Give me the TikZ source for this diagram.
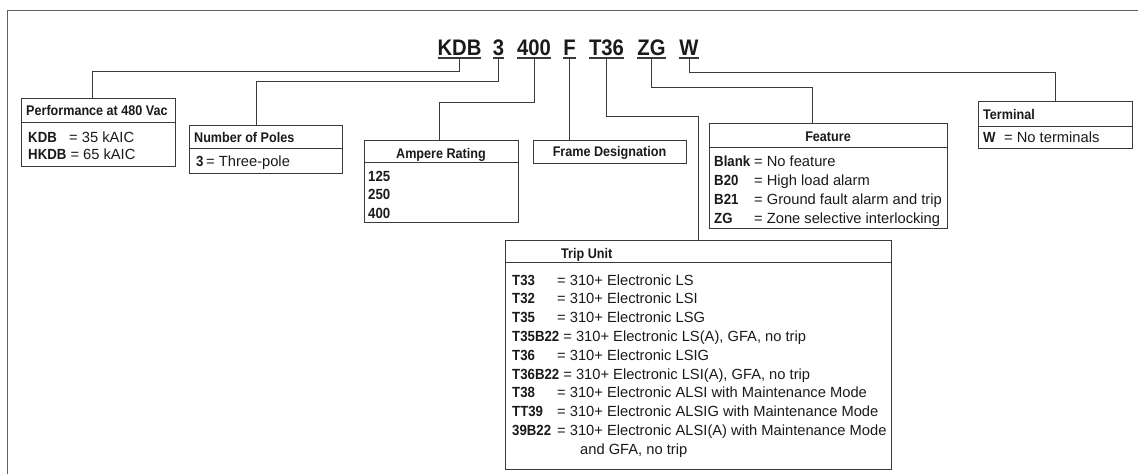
\documentclass[tikz,border=0pt]{standalone}
\usepackage{fontspec}
\setmainfont{Liberation Sans}[BoldFeatures={FakeStretch=0.9}]
\definecolor{ln}{HTML}{3A3A3A}
\definecolor{tx}{HTML}{1A1A1A}
\newcommand\tc[2]{\makebox[#1][l]{\bfseries #2}}
\begin{document}
\begin{tikzpicture}[x=1pt,y=-1pt,
  every node/.style={text=tx},
  code/.style={font=\fontsize{22.5}{24}\selectfont\bfseries, inner xsep=0pt, inner ysep=3pt, text depth=0pt, anchor=base, outer sep=0pt},
  uline/.style={draw=ln, line width=1.1pt},
  box/.style={draw=ln, line width=0.9pt, anchor=north west, inner sep=0pt, outer sep=0pt},
  sep/.style={draw=ln, line width=0.9pt},
  conn/.style={draw=ln, line width=0.9pt},
  hdr/.style={font=\fontsize{14}{16}\selectfont\bfseries, inner sep=0pt, anchor=base west},
  hdrc/.style={font=\fontsize{14}{16}\selectfont\bfseries, inner sep=0pt, anchor=base},
  row/.style={font=\fontsize{14.7}{16}\selectfont, inner sep=0pt, anchor=base west},
  frame/.style={draw=ln!80, line width=1pt}
]
\useasboundingbox (0,0) rectangle (1138,474);
\draw[frame] (7,474) -- (7,10) -- (1138,10);

% code
\node[code] (kdb) at (459.5,55) {KDB};
\node[code] (three) at (498.5,55) {3};
\node[code] (four) at (534,55) {400};
\node[code] (f) at (569.5,55) {F};
\node[code] (t36) at (606.5,55) {T36};
\node[code] (zg) at (651.5,55) {ZG};
\node[code] (w) at (689,55) {W};
\foreach \n in {kdb,three,four,f,t36,zg,w}
  \draw[uline] (\n.south west) -- (\n.south east);

% boxes
\node[box, minimum width=154, minimum height=68] (perf) at (21,98) {};
\draw[sep] (perf.west |- 0,122) -- (perf.east |- 0,122);
\node[hdr] (perfh) at (26,115) {Performance at 480 Vac};
\node[row] (perf1) at (28,142) {\tc{41pt}{KDB}= 35 kAIC};
\node[row] (perf2) at (28,159) {{\bfseries HKDB} = 65 kAIC};

\node[box, minimum width=153, minimum height=48] (poles) at (189,125) {};
\draw[sep] (poles.west |- 0,148) -- (poles.east |- 0,148);
\node[hdr] (polesh) at (194,142) {Number of Poles};
\node[row] (poles1) at (196,166) {\tc{10pt}{3}= Three-pole};

\node[box, minimum width=154, minimum height=82] (amp) at (364,140) {};
\draw[sep] (amp.west |- 0,162) -- (amp.east |- 0,162);
\node[hdrc] (amph) at (441,158) {Ampere Rating};
\node[row] (amp1) at (368,181) {\bfseries 125};
\node[row] (amp2) at (368,199) {\bfseries 250};
\node[row] (amp3) at (368,218) {\bfseries 400};

\node[box, minimum width=153, minimum height=23] (frm) at (533,140) {};
\node[hdrc] (frmh) at (609.5,156) {Frame Designation};

\node[box, minimum width=238, minimum height=105] (feat) at (709,123) {};
\draw[sep] (feat.west |- 0,147) -- (feat.east |- 0,147);
\node[hdrc] (feath) at (828,141) {Feature};
\node[row] (feat1) at (714,166) {\tc{40pt}{Blank}= No feature};
\node[row] (feat2) at (714,185) {\tc{40pt}{B20}= High load alarm};
\node[row] (feat3) at (714,204) {\tc{40pt}{B21}= Ground fault alarm and trip};
\node[row] (feat4) at (714,223) {\tc{40pt}{ZG}= Zone selective interlocking};

\node[box, minimum width=154, minimum height=47] (term) at (978,101) {};
\draw[sep] (term.west |- 0,126) -- (term.east |- 0,126);
\node[hdr] (termh) at (983,119) {Terminal};
\node[row] (term1) at (983,142) {\tc{21pt}{W}= No terminals};

\node[box, minimum width=386, minimum height=229] (trip) at (505,240) {};
\draw[sep] (trip.west |- 0,262) -- (trip.east |- 0,262);
\node[hdr] (triph) at (561,258) {Trip Unit};
\node[row] (trip1) at (512,285) {\tc{45pt}{T33}= 310+ Electronic LS};
\node[row] (trip2) at (512,303.8) {\tc{45pt}{T32}= 310+ Electronic LSI};
\node[row] (trip3) at (512,322.6) {\tc{45pt}{T35}= 310+ Electronic LSG};
\node[row] (trip4) at (512,341.4) {{\bfseries T35B22} = 310+ Electronic LS(A), GFA, no trip};
\node[row] (trip5) at (512,360.2) {\tc{45pt}{T36}= 310+ Electronic LSIG};
\node[row] (trip6) at (512,379) {{\bfseries T36B22} = 310+ Electronic LSI(A), GFA, no trip};
\node[row] (trip7) at (512,397.8) {\tc{45pt}{T38}= 310+ Electronic ALSI with Maintenance Mode};
\node[row] (trip8) at (512,416.6) {\tc{45pt}{TT39}= 310+ Electronic ALSIG with Maintenance Mode};
\node[row] (trip9) at (512,435.4) {\tc{45pt}{39B22}= 310+ Electronic ALSI(A) with Maintenance Mode};
\node[row] (trip10) at (580,454.2) {and GFA, no trip};

% connectors
\draw[conn] (kdb.south) -- ++(0,13) -| ([xshift=-6pt]perf.north);
\draw[conn] (three.south) -- ++(0,23) -| ([xshift=-9.5pt]poles.north);
\draw[conn] (four.south) -- ++(0,44) -| ([xshift=-2pt]amp.north);
\draw[conn] (f.south) -- (f.south |- frm.north);
\draw[conn] (t36.south) -- ++(0,58) -| (trip.north);
\draw[conn] (zg.south) -- ++(0,29) -| ([xshift=-16pt]feat.north);
\draw[conn] (w.south) -- ++(0,14) -| (term.north);
\end{tikzpicture}
\end{document}
